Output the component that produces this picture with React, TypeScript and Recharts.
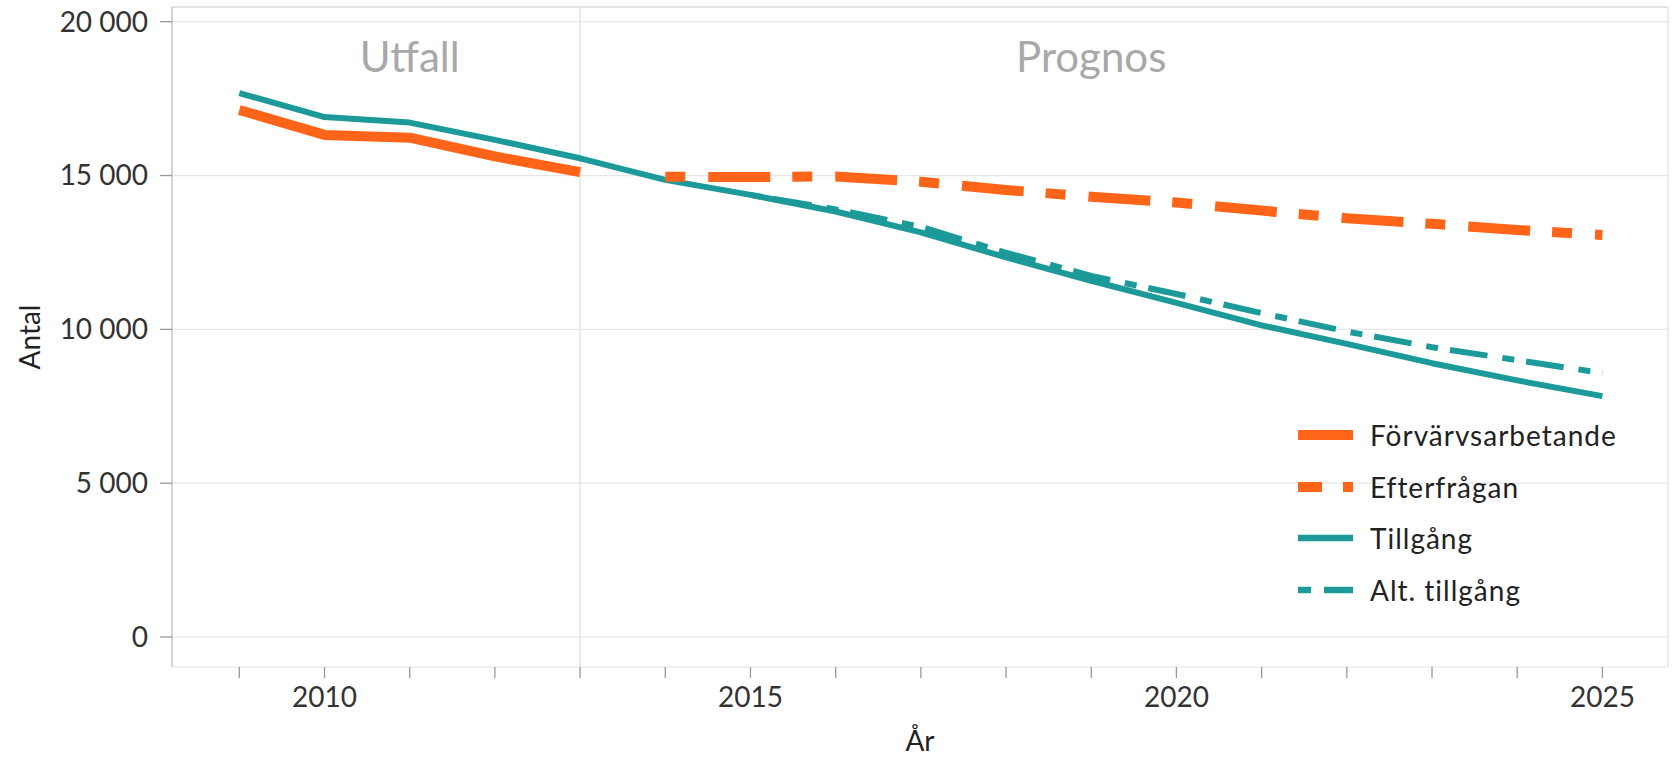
import React from 'react';
import { LineChart, Line, XAxis, YAxis, CartesianGrid, ReferenceLine, ReferenceDot } from 'recharts';

const years = [2009, 2010, 2011, 2012, 2013, 2014, 2015, 2016, 2017, 2018, 2019, 2020, 2021, 2022, 2023, 2024, 2025];
const forvarvsarbetande = [17130, 16320, 16230, 15620, 15110, null, null, null, null, null, null, null, null, null, null, null, null];
const efterfragan = [null, null, null, null, null, 14960, 14950, 14970, 14800, 14530, 14310, 14120, 13860, 13610, 13430, 13230, 13070];
const tillgang = [17680, 16900, 16720, 16160, 15560, 14860, 14370, 13830, 13150, 12340, 11580, 10860, 10130, 9530, 8900, 8340, 7830];
const altTillgang = [null, null, null, null, null, null, 14370, 13900, 13330, 12490, 11740, 11150, 10530, 9930, 9420, 9000, 8580];

const yTicks = [0, 5000, 10000, 15000, 20000];
const xLabelYears = [2010, 2015, 2020, 2025];
const periodLabels = [
  { year: 2011, text: 'Utfall' },
  { year: 2019, text: 'Prognos' },
];
const periodBoundary = 2013;

const X_DOMAIN: [number, number] = [2008.21, 2025.77];
const Y_DOMAIN: [number, number] = [-975, 20478];
const LABEL_VALUE = 18375;

const ORANGE = '#FF6418';
const TEAL = '#1C9A9A';
const FONT = 'Lato, "Noto Sans", sans-serif';

const data = years.map((year, i) => ({
  year,
  forvarv: forvarvsarbetande[i],
  efterfragan: efterfragan[i],
  tillgang: tillgang[i],
  alt: altTillgang[i],
}));

const legendItems = [
  { name: 'Förvärvsarbetande', color: ORANGE, width: 10, segs: [[0, 55]] },
  { name: 'Efterfrågan', color: ORANGE, width: 10, segs: [[0, 24], [45, 55]] },
  { name: 'Tillgång', color: TEAL, width: 6.5, segs: [[0, 55]] },
  { name: 'Alt. tillgång', color: TEAL, width: 6.5, segs: [[0, 13], [26, 55]] },
];

const fmt = (v: number) => String(v).replace(/\B(?=(\d{3})+(?!\d))/g, ' ');

export default function App() {
  return (
    <div style={{ position: 'absolute', left: 0, top: 0, width: 1673, height: 757, background: '#fff', fontFamily: FONT }}>
      <LineChart width={1673} height={757} data={data} margin={{ top: 7, right: 5, bottom: 0, left: 0 }}>
        <CartesianGrid vertical={false} stroke="#e6e6e6" strokeWidth={1.2} />
        <XAxis
          dataKey="year"
          type="number"
          domain={X_DOMAIN}
          ticks={years}
          interval={0}
          allowDataOverflow
          axisLine={false}
          tickLine={{ stroke: '#9a9a9a', strokeWidth: 1.3 }}
          tickSize={11}
          tickMargin={9}
          height={90}
          tickFormatter={(v: number) => (xLabelYears.includes(v) ? String(v) : '')}
          tick={{ fill: '#333', fontSize: 28, fontFamily: FONT }}
          label={{
            content: (props: any) => {
              const vb = props.viewBox;
              return (
                <text x={vb.x + vb.width / 2} y={751} textAnchor="middle" fill="#222" fontSize={28} fontFamily={FONT}>
                  År
                </text>
              );
            },
          }}
        />
        <YAxis
          type="number"
          domain={Y_DOMAIN}
          ticks={yTicks}
          allowDataOverflow
          width={172}
          axisLine={{ stroke: '#c4c4c4', strokeWidth: 1.5 }}
          tickLine={{ stroke: '#9a9a9a', strokeWidth: 1.3 }}
          tickSize={12}
          tickMargin={12}
          tickFormatter={fmt}
          tick={{ fill: '#333', fontSize: 28, fontFamily: FONT }}
          label={{
            content: (props: any) => {
              const vb = props.viewBox;
              const cy = vb.y + vb.height / 2;
              return (
                <text x={29} y={cy} transform={`rotate(-90 29 ${cy})`} textAnchor="middle" dominantBaseline="central" fill="#222" fontSize={28} fontFamily={FONT}>
                  Antal
                </text>
              );
            },
          }}
        />
        <ReferenceLine y={Y_DOMAIN[1]} stroke="#e3e3e3" strokeWidth={2} />
        <ReferenceLine x={X_DOMAIN[1]} stroke="#ececec" strokeWidth={2} />
        <ReferenceLine x={periodBoundary} stroke="#e3e3e3" strokeWidth={1.5} />
        {periodLabels.map((p) => (
          <ReferenceDot
            key={p.text}
            x={p.year}
            y={LABEL_VALUE}
            r={0}
            fill="none"
            stroke="none"
            label={{
              content: (props: any) => {
                const vb = props.viewBox;
                return (
                  <text x={vb.x + (vb.width || 0) / 2} y={vb.y + (vb.height || 0) / 2} textAnchor="middle" fill="#a8a8a8" fontSize={42} fontFamily={FONT}>
                    {p.text}
                  </text>
                );
              },
            }}
          />
        ))}
        <Line dataKey="tillgang" stroke={TEAL} strokeWidth={6} dot={false} activeDot={false} isAnimationActive={false} strokeLinejoin="round" />
        <Line dataKey="alt" stroke={TEAL} strokeWidth={6} strokeDasharray="12 12 38 15" dot={false} activeDot={false} isAnimationActive={false} />
        <Line dataKey="forvarv" stroke={ORANGE} strokeWidth={10} dot={false} activeDot={false} isAnimationActive={false} strokeLinejoin="round" />
        <Line dataKey="efterfragan" stroke={ORANGE} strokeWidth={10} strokeDasharray="20 23 62 22" dot={false} activeDot={false} isAnimationActive={false} />
      </LineChart>
      <div style={{ position: 'absolute', left: 1298, top: 409, fontFamily: FONT, fontSize: 28, color: '#222', letterSpacing: 1 }}>
        {legendItems.map((it) => (
          <div key={it.name} style={{ display: 'flex', alignItems: 'center', height: 51.7 }}>
            <svg width={55} height={12} style={{ display: 'block' }}>
              {it.segs.map(([a, b], k) => (
                <line key={k} x1={a} x2={b} y1={6} y2={6} stroke={it.color} strokeWidth={it.width} />
              ))}
            </svg>
            <span style={{ marginLeft: 17, whiteSpace: 'nowrap' }}>{it.name}</span>
          </div>
        ))}
      </div>
    </div>
  );
}
